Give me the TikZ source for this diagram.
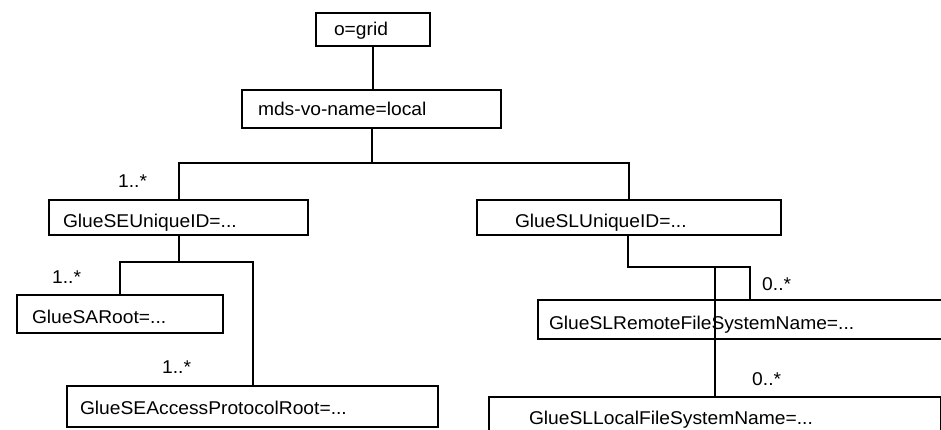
\documentclass[tikz,border=0pt]{standalone}
\usepackage{fontspec}
\newfontfamily\lab[FakeStretch=1.04]{Liberation Sans}
\begin{document}
\begin{tikzpicture}[x=1pt,y=-1pt,
  box/.style n args={4}{draw, line width=2pt, anchor=north west, inner ysep=0pt,
    inner xsep=#1, text width=#2, align=left, text height=#3, text depth=#4,
    font={\lab\fontsize{18.5}{20}\selectfont}},
  mult/.style={anchor=base west, inner sep=0pt, font={\lab\fontsize{18.5}{20}\selectfont}},
  conn/.style={line width=2pt}]
\path[use as bounding box, clip] (0,0) rectangle (941,430);
\fill[white] (0,0) rectangle (941,430);
\node[box={18pt}{78pt}{23pt}{10pt}] (grid) at (315,12) {o=grid};
\node[box={16pt}{227pt}{26pt}{12pt}] (mds) at (241,89) {mds-vo-name=local};
\node[box={14pt}{231pt}{27pt}{8pt}] (se) at (48,199) {GlueSEUniqueID=...};
\node[box={38pt}{228pt}{27pt}{8pt}] (sl) at (476,199) {GlueSLUniqueID=...};
\node[box={15pt}{176pt}{28pt}{10pt}] (sa) at (16,294) {GlueSARoot=...};
\node[box={13pt}{345pt}{28pt}{13pt}] (ap) at (66,385) {GlueSEAccessProtocolRoot=...};
\node[box={11pt}{401pt}{29pt}{10pt}] (rf) at (537,299) {GlueSLRemoteFileSystemName=...};
\node[box={40pt}{372pt}{27pt}{20pt}] (lf) at (488,396) {GlueSLLocalFileSystemName=...};
\coordinate (j1) at (372,163);
\coordinate (j2) at (179,262);
\coordinate (j3) at (628,267);
\draw[conn] (grid.south) -- (grid.south |- mds.north);
\draw[conn] (mds.south -| j1) -- (j1);
\draw[conn] (se.north) |- (j1) -| (sl.north);
\draw[conn] (se.south -| j2) -- (j2);
\draw[conn] (sa.north) |- (j2) -| (ap.north);
\draw[conn] (sl.south -| j3) -- (j3) -| (rf.north);
\draw[conn] (lf.north) -- (lf.north |- j3);
\node[mult] (m1) at (118,188) {1..*};
\node[mult] (m2) at (52,283) {1..*};
\node[mult] (m3) at (162,373) {1..*};
\node[mult] (m4) at (762,290) {0..*};
\node[mult] (m5) at (752,385) {0..*};
\end{tikzpicture}
\end{document}
